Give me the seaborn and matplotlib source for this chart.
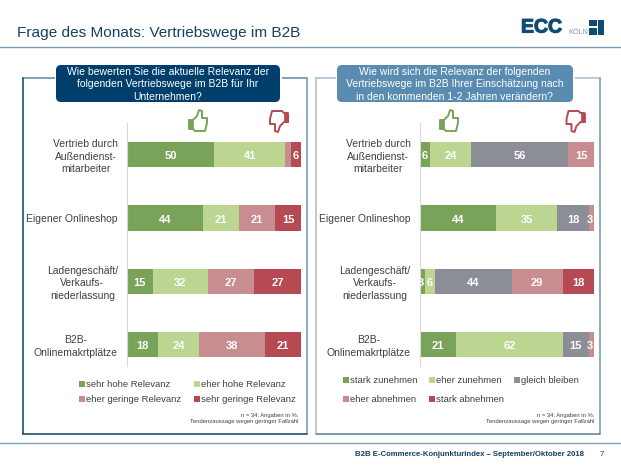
import numpy as np
import pandas as pd
import seaborn as sns
import matplotlib.pyplot as plt
import matplotlib.patheffects as pe
from matplotlib.patches import FancyBboxPatch, Polygon, Rectangle

W, H = 621, 466

rows = ['Vertrieb durch\nAußendienst-\nmitarbeiter', 'Eigener Onlineshop',
        'Ladengeschäft/\nVerkaufs-\nniederlassung', 'B2B-\nOnlinemakrtplätze']

# left chart: current relevance
left_labels = ['sehr hohe Relevanz', 'eher hohe Relevanz', 'eher geringe Relevanz', 'sehr geringe Relevanz']
left_sehr_hoch = [50, 44, 15, 18]
left_eher_hoch = [41, 21, 32, 24]
left_eher_gering = [3, 21, 27, 38]
left_sehr_gering = [6, 15, 27, 21]

# right chart: expected change
right_labels = ['stark zunehmen', 'eher zunehmen', 'gleich bleiben', 'eher abnehmen', 'stark abnehmen']
right_stark_zu = [6, 44, 3, 21]
right_eher_zu = [24, 35, 6, 62]
right_gleich = [56, 18, 44, 15]
right_eher_ab = [15, 3, 29, 3]
right_stark_ab = [0, 0, 18, 0]

GREEN = '#7aa35a'
LGREEN = '#bcd591'
GREY = '#8b8e96'
PINK = '#c88d90'
RED = '#b54a52'
NAVY = '#003f6b'
STEEL = '#5a8bb0'
TEXT = '#404040'

sns.set_theme(style='white')
plt.rcParams['font.family'] = ['Liberation Sans', 'DejaVu Sans']

fig = plt.figure(figsize=(W / 100, H / 100), dpi=100)
bg = fig.add_axes([0, 0, 1, 1])
bg.set_xlim(0, W)
bg.set_ylim(H, 0)
bg.axis('off')


def stacked(rect, series, labels, colors, hide):
    ax = fig.add_axes([rect[0] / W, 1 - rect[3] / H, (rect[2] - rect[0]) / W, (rect[3] - rect[1]) / H])
    ax.patch.set_alpha(0)
    totals = np.sum(series, axis=0)
    lefts = np.zeros(len(rows))
    for vals, lab, col in zip(series, labels, colors):
        vals = np.array(vals)
        df = pd.DataFrame({'row': rows, 'share': vals / totals * 100})
        sns.barplot(data=df, y='row', x='share', left=lefts, color=col, width=0.4,
                    saturation=1, ax=ax, order=rows, linewidth=0)
        for i, v in enumerate(vals):
            if v > 0 and (lab, i) not in hide:
                # the 3s sit a little left of their thin segments
                shift = -0.9 if v == 3 else 0
                ax.text(lefts[i] + df['share'][i] / 2 + shift, i + 0.025, str(v), ha='center', va='center',
                        color='white', fontsize=8, fontweight='bold')
        lefts = lefts + df['share'].values
    ax.set_xlim(0, 100)
    ax.set_ylim(3.34, -0.5)
    ax.set_xlabel('')
    ax.set_ylabel('')
    ax.set_xticks([])
    ax.set_yticks(range(len(rows)))
    ax.set_yticklabels(rows, fontsize=7.45, color=TEXT, ha='right', multialignment='center', linespacing=1.32)
    ax.tick_params(axis='y', length=0, pad=6.5)
    for s in ['top', 'right', 'bottom']:
        ax.spines[s].set_visible(False)
    ax.spines['left'].set_color('#d9d9d9')
    ax.spines['left'].set_linewidth(0.8)
    return ax


def frame(x0, x1, top, left, right, bottom):
    y0, y1 = 78, 434
    bg.plot([x0, x1], [y0, y0], color=top, lw=1.1)
    bg.plot([x0, x0], [y0, y1], color=left, lw=1.1)
    bg.plot([x1, x1], [y0, y1], color=right, lw=1.1)
    bg.plot([x0, x1], [y1, y1], color=bottom, lw=1.1)


def banner(x0, x1, col, title):
    bg.add_patch(FancyBboxPatch((x0, 65), x1 - x0, 37, boxstyle='round,pad=0,rounding_size=5',
                                fc=col, ec='none', zorder=3))
    # white gap between the frame line and the banner
    bg.add_patch(Rectangle((x0 - 1.5, 74), x1 - x0 + 3, 8, fc='white', ec='none', zorder=2.5))
    bg.text((x0 + x1) / 2, 84.3, title, color='white', fontsize=7.45, ha='center', va='center',
            linespacing=1.32, zorder=4)


def thumb(cx, cy, col, down=False):
    # outline of a small hand, in pixels around its centre
    s = -1 if down else 1
    pts = [(-9, -1), (-5, -1), (-1, -5), (1, -11), (4, -10), (4, -3), (9, -3), (9, 2), (7, 10), (-3, 10), (-5, 8), (-9, 8)]
    bg.add_patch(Polygon([(cx + s * x, cy + s * y) for x, y in pts], closed=True, fc='white', ec=col, lw=1.4,
                         joinstyle='round'))
    cuff = [(-9, -1), (-5, -1), (-5, 8), (-9, 8)]
    bg.add_patch(Polygon([(cx + s * x, cy + s * y) for x, y in cuff], closed=True, fc=col, ec=col, lw=0.5))


# header and footer
bg.text(17, 33.5, 'Frage des Monats: Vertriebswege im B2B', fontsize=11.1, color='#17415f', va='center')
bg.plot([0, W], [47, 47], color='#7f9db3', lw=1)
bg.plot([0, W], [443, 443], color='#7f9db3', lw=1)
bg.text(584, 455, 'B2B E-Commerce-Konjunkturindex – September/Oktober 2018', fontsize=5.55, color='#17415f',
        fontweight='bold', ha='right', va='center')
bg.text(602, 455, '7', fontsize=5.55, color='#17415f', ha='center', va='center')

# logo
bg.text(521, 28, 'ECC', fontsize=14, fontweight='bold', color='#0f4c75', va='center',
        path_effects=[pe.withStroke(linewidth=0.8, foreground='#0f4c75')])
bg.text(568, 32.5, 'KÖLN', fontsize=5.2, color='#7f9db3', va='center')
for x, y, w, h in [(589, 20, 7.5, 5.5), (589, 27.5, 7.5, 7.5), (598, 20, 6, 15)]:
    bg.add_patch(Rectangle((x, y), w, h, fc='#0f4c75', ec='none'))

frame(22.5, 307, '#5f87a3', NAVY, '#6f93ad', '#0f3f60')
frame(316, 600, '#a8bccb', '#a8bccb', '#6f93ad', '#5a7f9a')
banner(56, 280, NAVY, 'Wie bewerten Sie die aktuelle Relevanz der\nfolgenden Vertriebswege im B2B für Ihr\nUnternehmen?')
banner(337, 573, STEEL, 'Wie wird sich die Relevanz der folgenden\nVertriebswege im B2B Ihrer Einschätzung nach\nin den kommenden 1-2 Jahren verändern?')

ax1 = stacked((127, 123, 301, 366), [left_sehr_hoch, left_eher_hoch, left_eher_gering, left_sehr_gering],
              left_labels, [GREEN, LGREEN, PINK, RED], {('eher geringe Relevanz', 0)})
ax2 = stacked((419.5, 123, 594, 366), [right_stark_zu, right_eher_zu, right_gleich, right_eher_ab, right_stark_ab],
              right_labels, [GREEN, LGREEN, GREY, PINK, RED], set())

thumb(198, 121, GREEN)
thumb(279, 121, RED, down=True)
thumb(449, 121, GREEN)
thumb(575.5, 121, RED, down=True)


def legend(items):
    for x, y, lab, col in items:
        bg.add_patch(Rectangle((x, y - 3), 6, 6, fc=col, ec='none'))
        bg.text(x + 7, y + 0.7, lab, fontsize=6.8, color=TEXT, va='center')


legend([(79, 384, left_labels[0], GREEN), (194, 384, left_labels[1], LGREEN),
        (79, 399, left_labels[2], PINK), (194, 399, left_labels[3], RED)])
legend([(343, 380, right_labels[0], GREEN), (429, 380, right_labels[1], LGREEN), (514, 380, right_labels[2], GREY),
        (343, 399, right_labels[3], PINK), (429, 399, right_labels[4], RED)])

for x in (298, 594):
    bg.text(x, 418, 'n = 34; Angaben in %;\nTendenzaussage wegen geringer Fallzahl', fontsize=4.2, color=TEXT,
            ha='right', va='center', linespacing=1.25)

fig.savefig('out.png', dpi=100)
